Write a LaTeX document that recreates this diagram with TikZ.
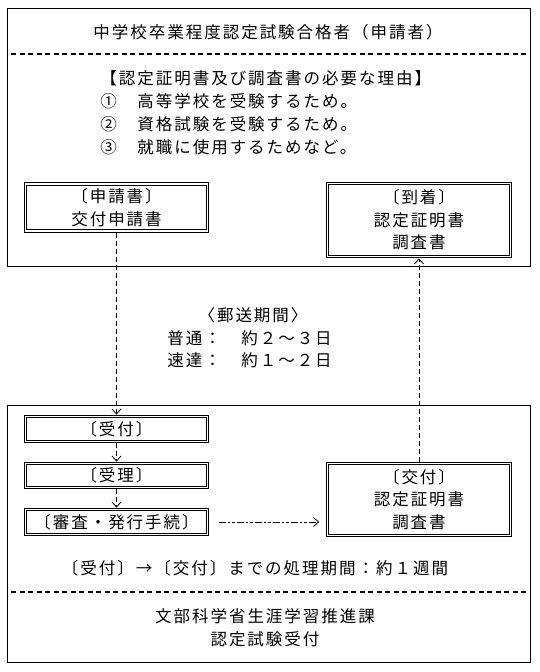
\documentclass[tikz,border=0pt]{standalone}
\usepackage{fontspec}
\setmainfont{Noto Sans CJK JP}[LetterSpace=12]
\usepackage{tikz}
\usetikzlibrary{arrows.meta}
\newcommand{\jptext}{\fontsize{16.5}{22.5}\selectfont}

\begin{document}
\begin{tikzpicture}[x=1pt,y=-1pt,font=\jptext,line width=0.8pt]
    \useasboundingbox (0,0) rectangle (539,672);
    % frames
    \draw (7,8) rectangle (530,266);
    \draw (7,405) rectangle (530,662);
    \draw[line width=1.4pt,dash pattern=on 5pt off 3.5pt] (11,54) -- (527,54);
    \draw[line width=1.4pt,dash pattern=on 5pt off 3.5pt] (11,592) -- (527,592);

    \begin{scope}[every node/.style={inner sep=0pt}]
      \node (title) at (268,32) {中学校卒業程度認定試験合格者（申請者）};
      \node[anchor=west] (reason) at (100,78) {【認定証明書及び調査書の必要な理由】};
      \node[anchor=west] (reasonA) at (100,101) {①　高等学校を受験するため。};
      \node[anchor=west] (reasonB) at (100,124) {②　資格試験を受験するため。};
      \node[anchor=west] (reasonC) at (100,147) {③　就職に使用するためなど。};

      \node (mail) at (253,315) {〈郵送期間〉};
      \node[anchor=west] (normal) at (167,338) {普通：　約２～３日};
      \node[anchor=west] (express) at (167,360) {速達：　約１～２日};

      \node (span) at (255,568) {〔受付〕→〔交付〕までの処理期間：約１週間};
      \node[align=center] (office) at (265,627.5)
           {文部科学省生涯学習推進課\\認定試験受付};
    \end{scope}

    \begin{scope}[every node/.style={draw,double,double distance=1.6pt,
        align=center,inner sep=0pt,minimum width=182pt}]
      \node[minimum height=47pt] (apply) at (116.5,207.5) {〔申請書〕\\交付申請書};
      \node[minimum width=183pt,minimum height=73pt] (arrive) at (419,220)
           {〔到着〕\\認定証明書\\調査書};
      \node[minimum height=25pt] (accept) at (116.5,429) {〔受付〕};
      \node[minimum height=24pt] (receive) at (116.5,475.5) {〔受理〕};
      \node[minimum height=25pt] (check) at (116.5,522) {〔審査・発行手続〕};
      \node[minimum width=183pt,minimum height=72pt] (issue) at (419,499.5)
           {〔交付〕\\認定証明書\\調査書};
    \end{scope}

    \begin{scope}[>={Straight Barb[length=5pt,width=9pt]},
        every edge/.style={draw,line width=0.8pt,dash pattern=on 5pt off 3pt}]
      \path [->] (apply) edge[shorten >=1.5pt,shorten <=1.5pt] (accept);
      \path [->] (accept) edge[shorten >=1.5pt,shorten <=1.5pt] (receive);
      \path [->] (receive) edge[shorten >=1.5pt,shorten <=1.5pt] (check);
      \path [->] (issue) edge[shorten >=1.5pt,shorten <=1.5pt] (arrive);
      \path [->] (check.east) edge[dash pattern=on 7pt off 2pt on 2.5pt off 2pt on 2.5pt off 2pt,
          shorten <=11pt,shorten >=8pt] (issue.west |- check.east);
    \end{scope}
\end{tikzpicture}
\end{document}
